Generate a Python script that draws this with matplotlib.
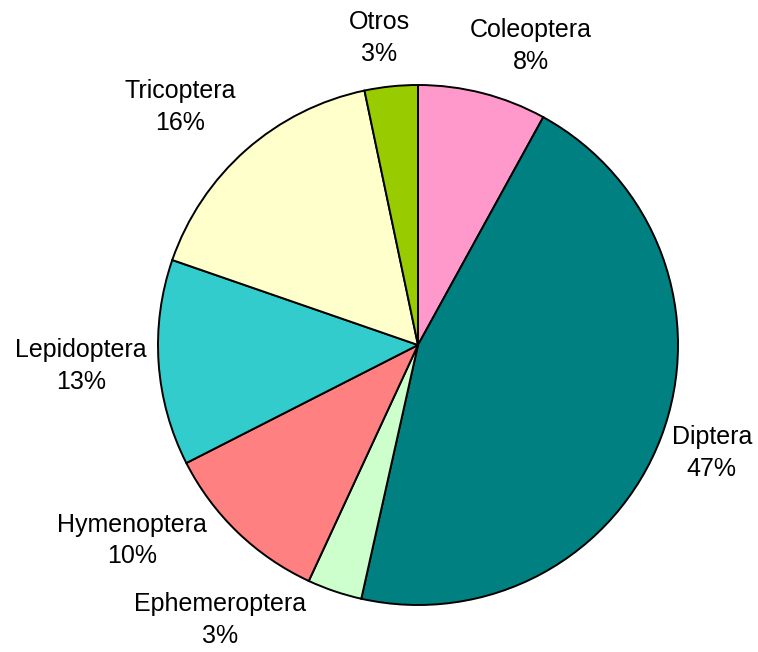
import matplotlib.pyplot as plt

# orden: desde arriba, sentido horario
groups = ["Coleoptera", "Diptera", "Ephemeroptera", "Hymenoptera",
          "Lepidoptera", "Tricoptera", "Otros"]
values = [8.0, 45.5, 3.4, 10.6, 12.8, 16.4, 3.3]
pct_labels = ["8%", "47%", "3%", "10%", "13%", "16%", "3%"]
colors = ["#FF99CC", "#008080", "#CCFFCC", "#FF8080",
          "#33CCCC", "#FFFFCC", "#99CC00"]

# label positions, in units of the pie radius
label_pos = [(0.435, 1.150), (1.130, -0.415), (-0.762, -1.058),
             (-1.100, -0.752), (-1.296, -0.080), (-0.915, 0.916),
             (-0.150, 1.180)]

plt.rcParams['font.family'] = ['Liberation Sans', 'DejaVu Sans']

fig = plt.figure(figsize=(7.58, 6.52), dpi=100)
ax = fig.add_axes([0, 0, 1, 1])

ax.pie(values, colors=colors, startangle=90, counterclock=False,
       radius=1.0, wedgeprops=dict(edgecolor="black", linewidth=1.4))

for name, pct, (x, y) in zip(groups, pct_labels, label_pos):
    ax.text(x, y, name + "\n" + pct, ha="center", va="center",
            fontsize=18, linespacing=1.4)

r_px = 260.0
cx, cy = 418.0, 345.0
ax.set_xlim(-cx / r_px, (758 - cx) / r_px)
ax.set_ylim(-(652 - cy) / r_px, cy / r_px)
ax.set_aspect('auto')
ax.axis('off')

fig.savefig("out.png", dpi=100)
